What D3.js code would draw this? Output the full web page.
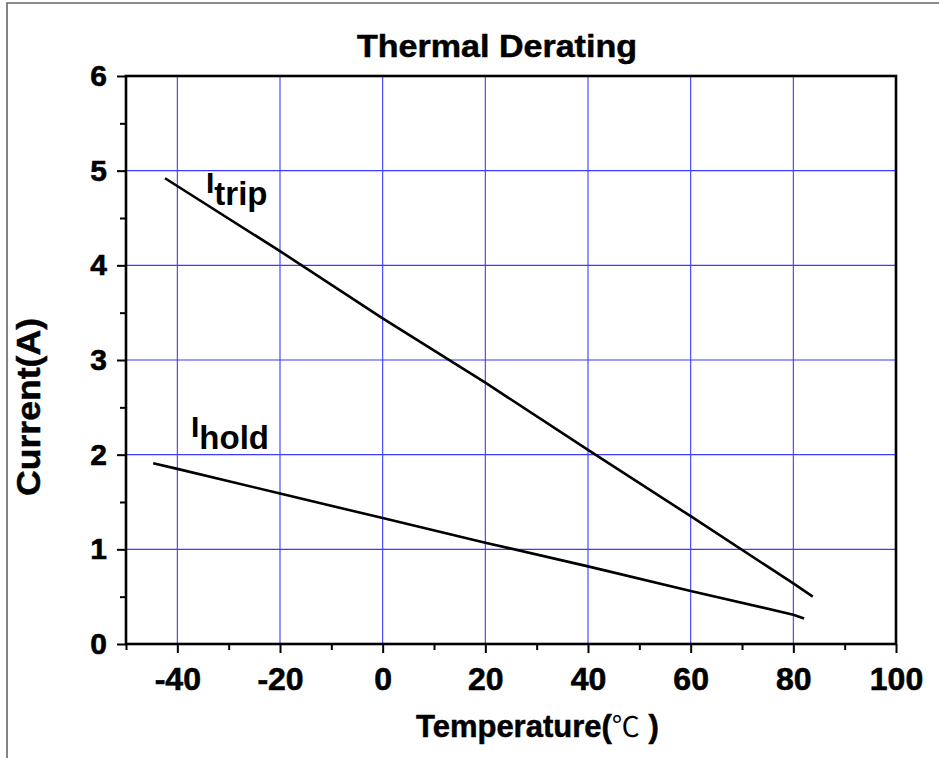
<!DOCTYPE html>
<html><head><meta charset="utf-8">
<script src="https://cdn.jsdelivr.net/npm/d3@7"></script>
<style>body{margin:0;background:#fff}svg{display:block}</style>
</head><body>
<svg id="chart" width="939" height="758"></svg>
<script>
// ---- data ----
const xMajorTicks = [-40, -20, 0, 20, 40, 60, 80, 100];
const xMinorTicks = [-50, -30, -10, 10, 30, 50, 70, 90];
const yMajorTicks = [0, 1, 2, 3, 4, 5, 6];
const yMinorTicks = [0.5, 1.5, 2.5, 3.5, 4.5, 5.5];
const tripTemp = [-42.4, -20, 0, 20, 40, 60, 80, 83.8];
const tripCurrent = [4.92, 4.15, 3.44, 2.76, 2.05, 1.35, 0.64, 0.50];
const holdTemp = [-44.7, -40, -20, 0, 20, 40, 60, 80, 82.1];
const holdCurrent = [1.91, 1.85, 1.59, 1.33, 1.07, 0.82, 0.56, 0.31, 0.27];
const title = "Thermal Derating";
const xTitleParts = ["Temperature(", "℃", " )"];
const yTitle = "Current(A)";

const svg = d3.select("#chart");
const L = 126, R = 896, T = 76, B = 644;
const x = d3.scaleLinear().domain([-50, 100]).range([L, R]);
const y = d3.scaleLinear().domain([0, 6]).range([B, T]);
const font = "'Liberation Sans', Arial, sans-serif";

// outer border
svg.append("path").attr("d", `M7,${758}V3H939`).attr("fill", "none")
  .attr("stroke", "#666").attr("stroke-width", 1.6);

// grid
const grid = svg.append("g").attr("stroke", "#3b3bff").attr("stroke-width", 1.1);
grid.selectAll("line.gx").data(xMajorTicks.filter(d => d < 100)).join("line")
  .attr("x1", d => x(d)).attr("x2", d => x(d)).attr("y1", T).attr("y2", B);
grid.selectAll("line.gy").data(yMajorTicks.filter(d => d > 0 && d < 6)).join("line")
  .attr("y1", d => y(d)).attr("y2", d => y(d)).attr("x1", L).attr("x2", R);

// axes
function styleAxis(g, size) {
  g.select(".domain").remove();
  g.selectAll(".tick line").attr("stroke", "#000").attr("stroke-width", 2);
  g.selectAll(".tick text").attr("fill", "#000").attr("font-family", font)
    .attr("font-weight", "bold").attr("font-size", size)
    .attr("stroke", "#000").attr("stroke-width", 0.6);
}
const fmt = d => String(d);
const xAx = svg.append("g").attr("transform", `translate(0,${B})`)
  .call(d3.axisBottom(x).tickValues(xMajorTicks).tickSize(9).tickPadding(14).tickFormat(fmt));
styleAxis(xAx, 32);
xAx.selectAll(".tick text").attr("dy", "0.71em");
const xMin = svg.append("g").attr("transform", `translate(0,${B})`)
  .call(d3.axisBottom(x).tickValues(xMinorTicks).tickSize(6).tickFormat(""));
styleAxis(xMin, 10);

const yAx = svg.append("g").attr("transform", `translate(${L},0)`)
  .call(d3.axisLeft(y).tickValues(yMajorTicks).tickSize(9).tickPadding(10).tickFormat(fmt));
styleAxis(yAx, 30);
const yMin = svg.append("g").attr("transform", `translate(${L},0)`)
  .call(d3.axisLeft(y).tickValues(yMinorTicks).tickSize(6).tickFormat(""));
styleAxis(yMin, 10);

// frame
svg.append("rect").attr("x", L).attr("y", T).attr("width", R - L).attr("height", B - T)
  .attr("fill", "none").attr("stroke", "#000").attr("stroke-width", 2.6);

// lines
const line = d3.line().x(d => x(d[0])).y(d => y(d[1]));
svg.append("path").datum(d3.zip(tripTemp, tripCurrent)).attr("d", line)
  .attr("fill", "none").attr("stroke", "#000").attr("stroke-width", 2.6);
svg.append("path").datum(d3.zip(holdTemp, holdCurrent)).attr("d", line)
  .attr("fill", "none").attr("stroke", "#000").attr("stroke-width", 2.6);

// series labels
function subLabel(px, py, main, sub) {
  const t = svg.append("text").attr("x", px).attr("y", py).attr("font-family", font)
    .attr("font-weight", "bold").attr("font-size", 30).attr("fill", "#000");
  t.append("tspan").text(main);
  t.append("tspan").attr("dy", 12).attr("font-size", 33).text(sub);
}
subLabel(206, 193, "I", "trip");
subLabel(191, 437, "I", "hold");

// titles
svg.append("text").attr("x", 497).attr("y", 57).attr("text-anchor", "middle")
  .attr("font-family", font).attr("font-weight", "bold").attr("font-size", 31)
  .attr("stroke", "#000").attr("stroke-width", 0.5)
  .attr("textLength", 280).attr("lengthAdjust", "spacingAndGlyphs").text(title);
const xt = svg.append("text").attr("x", 416).attr("y", 737)
  .attr("font-family", font).attr("font-weight", "bold").attr("font-size", 31);
xt.append("tspan").attr("stroke", "#000").attr("stroke-width", 0.5).text(xTitleParts[0]);
xt.append("tspan").attr("font-weight", "normal").attr("font-size", 28)
  .attr("font-family", "'Noto Sans CJK SC', sans-serif").text(xTitleParts[1]);
xt.append("tspan").attr("stroke", "#000").attr("stroke-width", 0.5).text(xTitleParts[2]);
svg.append("text").attr("transform", `translate(40,407) rotate(-90)`).attr("text-anchor", "middle")
  .attr("font-family", font).attr("font-weight", "bold").attr("font-size", 34)
  .attr("stroke", "#000").attr("stroke-width", 0.5)
  .attr("textLength", 178).attr("lengthAdjust", "spacingAndGlyphs").text(yTitle);
</script>
</body></html>
